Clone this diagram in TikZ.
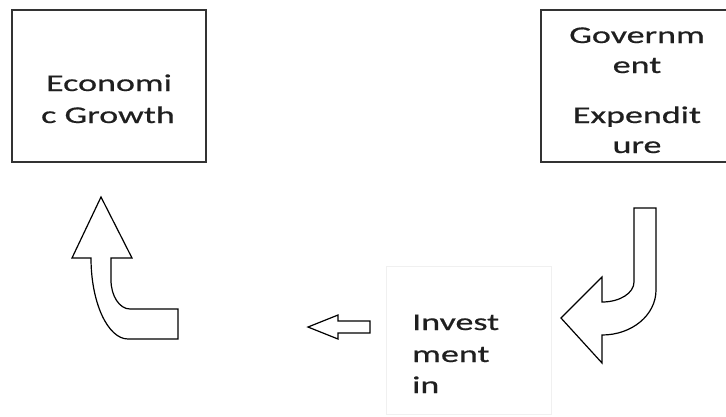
\documentclass[tikz,border=0pt]{standalone}
\usepackage{fontspec}
\setmainfont{Carlito}
\newfontfamily\widefont[FakeStretch=1.5,FakeBold=0.6]{Carlito}
\begin{document}
\begin{tikzpicture}[x=1pt,y=-1pt,
  box/.style={draw=black!80,line width=1.8pt,fill=white},
  txt/.style={inner sep=0pt,font=\widefont\fontsize{24}{30}\selectfont,text=black!88},
  blockarrow/.style={draw=black,line width=1.2pt,fill=white,line join=miter}]
\clip (0,0) rectangle (726,416);
\fill[white] (0,0) rectangle (726,416);
% boxes
\draw[box] (12,10) rectangle (206,162);
\draw[box] (760,10) -- (541,10) -- (541,162) -- (760,162);
\draw[draw=black!6,line width=0.8pt] (386,266) rectangle (551,414);
% texts
\node[txt,anchor=base] (eg1) at (109,91) {Economi};
\node[txt,anchor=base] (eg2) at (108,123) {c Growth};
\node[txt,anchor=base] (ge1) at (637,43) {Governm};
\node[txt,anchor=base] (ge2) at (637,73) {ent};
\node[txt,anchor=base] (ge3) at (637,123) {Expendit};
\node[txt,anchor=base] (ge4) at (637,153) {ure};
\node[txt,anchor=base west] (in1) at (412,330) {Invest};
\node[txt,anchor=base west] (in2) at (412,362) {ment};
\node[txt,anchor=base west] (in3) at (412,393) {in};
% curved up arrow
\draw[blockarrow] (178,339) -- (128,339) .. controls (108,339) and (91,303) .. (91,258)
  -- (72,258) -- (101,197) -- (132,258) -- (111,258) -- (111,280)
  .. controls (111,296) and (119.5,309) .. (130,309) -- (178,309) -- cycle;
% small left arrow
\draw[blockarrow] (308,327) -- (338,315) -- (338,321) -- (370,321) -- (370,333)
  -- (338,333) -- (338,339) -- cycle;
% curved down-left arrow
\draw[blockarrow] (634,208) -- (656,208) -- (656,290)
  .. controls (656,315) and (632,335) .. (602,335) -- (602,363) -- (561,318)
  -- (602,277) -- (602,302) .. controls (620,302) and (634,293) .. (634,282) -- cycle;
\end{tikzpicture}
\end{document}
